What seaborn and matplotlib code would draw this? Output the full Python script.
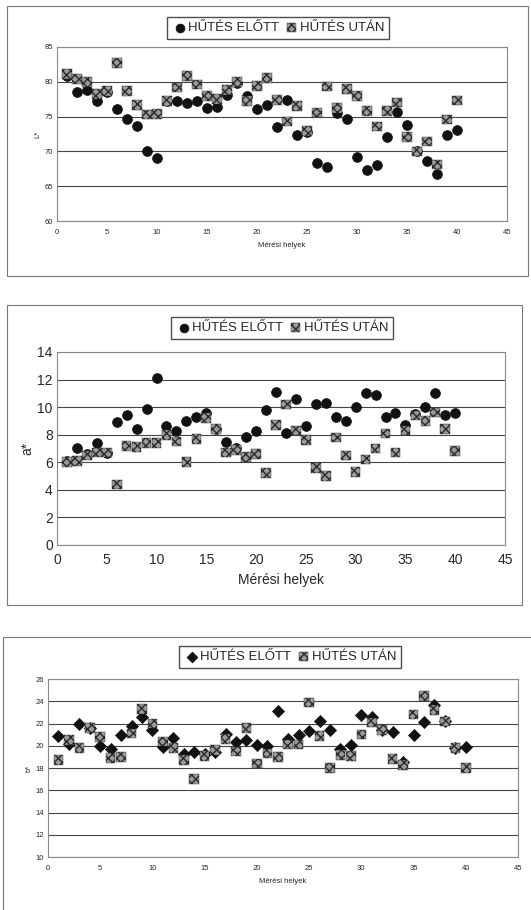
import matplotlib
matplotlib.use('Agg')
import matplotlib.pyplot as plt
import seaborn as sns
import pandas as pd
from matplotlib.patches import Rectangle

# measuring places
places = list(range(1, 41))

# L* values
L_before = [80.8, 78.6, 78.8, 77.2, 78.5, 76.1, 74.6, 73.6, 70.0, 69.0,
            77.2, 77.3, 77.0, 77.3, 76.2, 76.4, 78.1, 79.8, 78.0, 76.1,
            76.6, 73.5, 77.4, 72.3, 72.8, 68.3, 67.8, 75.5, 74.6, 69.2,
            67.4, 68.1, 72.0, 75.7, 73.8, 70.1, 68.6, 66.8, 72.3, 73.1]
L_after = [81.1, 80.4, 80.0, 78.2, 78.7, 82.7, 78.7, 76.7, 75.3, 75.4,
           77.2, 79.2, 80.8, 79.6, 78.0, 77.5, 78.8, 80.0, 77.2, 79.4,
           80.5, 77.4, 74.3, 76.5, 72.9, 75.6, 79.3, 76.2, 79.0, 78.0,
           75.8, 73.6, 75.8, 77.0, 72.1, 70.0, 71.4, 68.1, 74.6, 77.3]

# a* values
a_before = [6.1, 7.0, 6.6, 7.4, 6.7, 8.9, 9.4, 8.4, 9.9, 12.1,
            8.6, 8.3, 9.0, 9.3, 9.6, 8.4, 7.5, 7.0, 7.8, 8.3,
            9.8, 11.1, 8.1, 10.6, 8.6, 10.2, 10.3, 9.3, 9.0, 10.0,
            11.0, 10.9, 9.3, 9.6, 8.7, 9.5, 10.0, 11.0, 9.4, 9.6]
a_after = [6.0, 6.1, 6.5, 6.7, 6.7, 4.4, 7.2, 7.1, 7.4, 7.4,
           8.0, 7.5, 6.0, 7.7, 9.2, 8.4, 6.7, 6.9, 6.4, 6.6,
           5.2, 8.7, 10.2, 8.3, 7.6, 5.6, 5.0, 7.8, 6.5, 5.3,
           6.2, 7.0, 8.1, 6.7, 8.3, 9.4, 9.0, 9.6, 8.4, 6.8]

# b* values
b_before = [20.9, 20.2, 22.0, 21.6, 20.0, 19.7, 21.0, 21.8, 22.6, 21.4,
            19.9, 20.7, 19.3, 19.4, 19.3, 19.4, 21.1, 20.3, 20.5, 20.1,
            20.0, 23.1, 20.6, 21.0, 21.3, 22.2, 21.4, 19.7, 20.1, 22.8,
            22.6, 21.4, 21.2, 18.5, 21.0, 22.1, 23.7, 22.2, 19.8, 19.9]
b_after = [18.7, 20.5, 19.8, 21.6, 20.8, 18.9, 19.0, 21.1, 23.3, 22.0,
           20.4, 19.8, 18.7, 17.0, 19.1, 19.6, 20.6, 19.5, 21.6, 18.4,
           19.3, 19.0, 20.1, 20.1, 23.9, 20.9, 18.0, 19.2, 19.1, 21.0,
           22.1, 21.4, 18.8, 18.3, 22.8, 24.5, 23.2, 22.2, 19.8, 18.0]

label_before = 'HŰTÉS ELŐTT'
label_after = 'HŰTÉS UTÁN'

sns.set_style('white')
plt.rcParams['font.family'] = ['Liberation Sans', 'DejaVu Sans']
plt.rcParams['hatch.linewidth'] = 1.0

fig = plt.figure(figsize=(5.31, 9.10), dpi=100)

panels = [
    # before, after, ylabel, ylim, ystep, axes rect, frame (px), legend centre (px), tick size, legend size, marker
    (L_before, L_after, 'L*', (60, 85), 5, [0.1073, 0.7571, 0.8475, 0.1913],
     (7, 6, 521, 270), (278, 28), 5.5, 9.5, 'o'),
    (a_before, a_after, 'a*', (0, 14), 2, [0.1073, 0.4011, 0.8437, 0.2121],
     (7, 305, 515, 300), (282, 328), 10, 9.5, 'o'),
    (b_before, b_after, 'b*', (10, 26), 2, [0.0904, 0.0582, 0.8851, 0.1956],
     (3, 637, 540, 300), (290, 657), 5.5, 9.5, 'D'),
]

W, H = 531, 910
for before, after, ylab, ylim, ystep, rect, frame, lc, fs, lfs, mk in panels:
    fx, fy, fw, fh = frame
    fig.patches.append(Rectangle((fx / W, 1 - (fy + fh) / H), fw / W, fh / H,
                                 transform=fig.transFigure, fill=False,
                                 edgecolor='#777777', linewidth=0.8))
    ax = fig.add_axes(rect)
    df = pd.DataFrame({'x': places, 'before': before, 'after': after})
    sns.scatterplot(data=df, x='x', y='before', ax=ax, marker=mk,
                    s=50 if mk == 'o' else 38, color='#111111',
                    edgecolor='#111111', linewidth=0.5, label=label_before,
                    zorder=3)
    sns.scatterplot(data=df, x='x', y='after', ax=ax, marker='s', s=48,
                    facecolor='#9a9a9a', edgecolor='#2a2a2a', hatch='xxxx',
                    linewidth=0.3, label=label_after, zorder=4)
    ax.set_xlim(0, 45)
    ax.set_ylim(*ylim)
    ax.set_xticks(range(0, 46, 5))
    ax.set_yticks(range(ylim[0], ylim[1] + 1, ystep))
    ax.yaxis.grid(True, color='#444444', linewidth=0.8)
    ax.set_axisbelow(True)
    for sp in ax.spines.values():
        sp.set_color('#888888')
        sp.set_linewidth(0.8)
    ax.tick_params(axis='both', labelsize=fs, length=3, color='#555555',
                   pad=3)
    ax.tick_params(axis='y', length=0)
    ax.set_xlabel('Mérési helyek', fontsize=fs, labelpad=4)
    ax.set_ylabel(ylab, fontsize=fs, labelpad=2)
    ax.get_legend().remove()
    h, l = ax.get_legend_handles_labels()
    fig.legend(h, l, loc='center', bbox_to_anchor=(lc[0] / W, 1 - lc[1] / H),
               ncol=2, fontsize=lfs, frameon=True, fancybox=False,
               edgecolor='#222222', handletextpad=0.0, columnspacing=0.4,
               borderpad=0.35, markerscale=0.9, handlelength=1.2)

fig.savefig('out.png', dpi=100)
